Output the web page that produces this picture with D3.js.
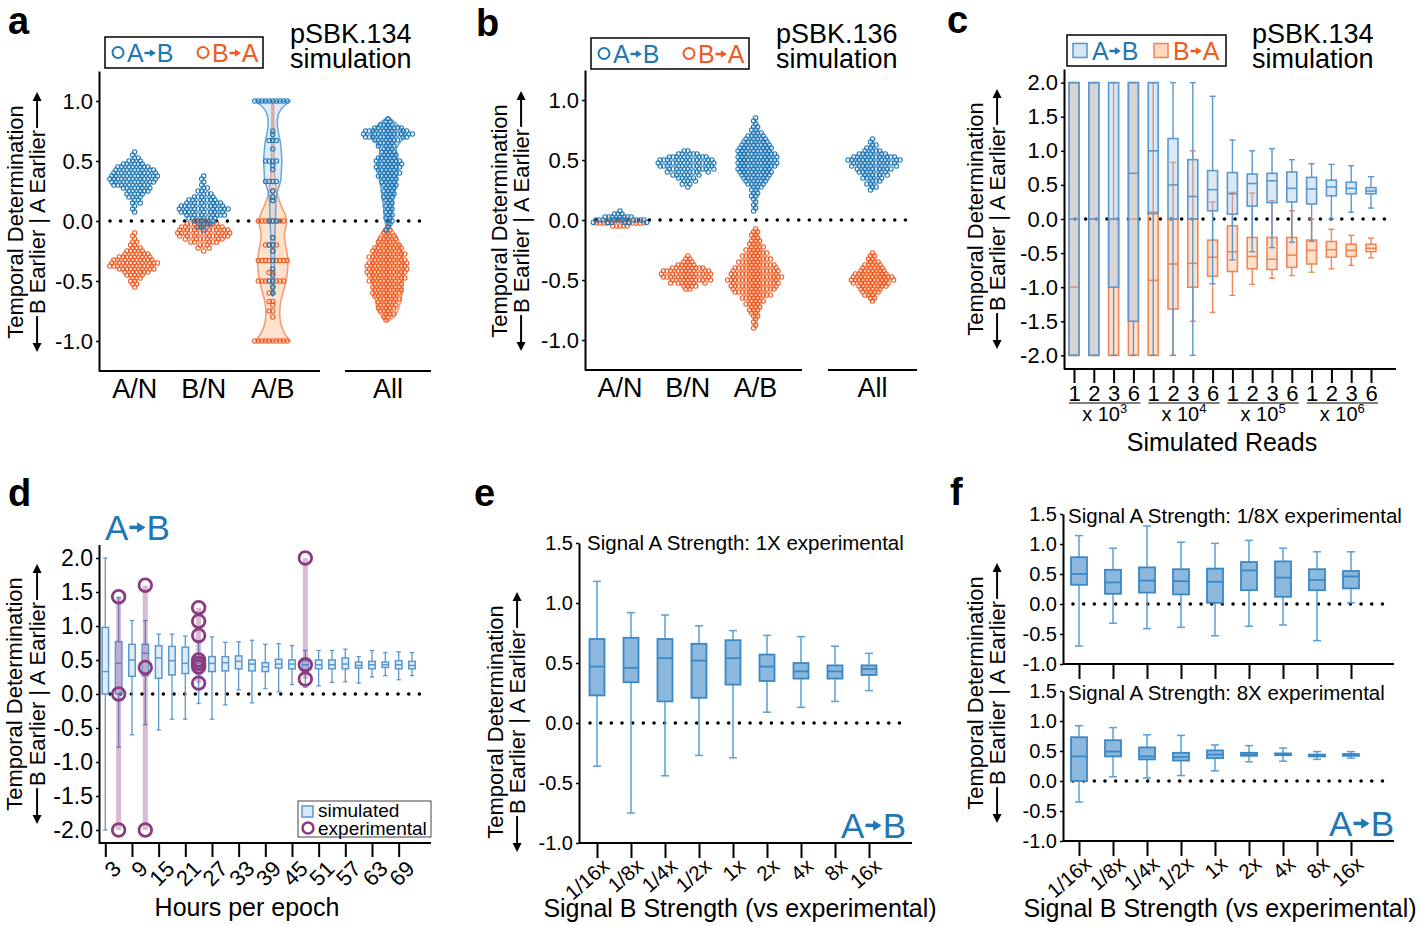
<!DOCTYPE html>
<html><head><meta charset="utf-8">
<script src="https://cdn.jsdelivr.net/npm/d3@7"></script>
<style>body{margin:0;background:#fff}</style>
</head><body>
<script>
// ================= DATA =================
const simCats = ["A/N", "B/N", "A/B"];
const allCat = ["All"];
// swarm data: [value, number of points at that value]
const aAN_AtoB = [[0.575,1],[0.55,1],[0.525,2],[0.5,3],[0.475,5],[0.45,7],[0.425,8],[0.4,9],[0.375,10],[0.35,10],[0.325,9],[0.3,8],[0.275,6],[0.25,5],[0.225,4],[0.2,3],[0.175,2],[0.15,2],[0.125,1],[0.1,1],[0.075,1]];
const aAN_BtoA = [[-0.1,1],[-0.125,1],[-0.15,1],[-0.175,2],[-0.2,2],[-0.225,3],[-0.25,4],[-0.275,6],[-0.3,7],[-0.325,9],[-0.35,10],[-0.375,10],[-0.4,8],[-0.425,6],[-0.45,4],[-0.475,3],[-0.5,2],[-0.525,2],[-0.55,1]];
const aBN_AtoB = [[0.375,1],[0.35,1],[0.325,1],[0.3,1],[0.275,2],[0.25,2],[0.225,3],[0.2,4],[0.175,6],[0.15,7],[0.125,9],[0.1,10],[0.075,9],[0.05,8],[0.025,6],[0.0,4],[-0.025,3],[-0.05,2],[-0.075,1]];
const aBN_BtoA = [[0.0,4],[-0.025,6],[-0.05,8],[-0.075,9],[-0.1,10],[-0.125,9],[-0.15,7],[-0.175,5],[-0.2,3],[-0.225,2],[-0.25,1]];
const aAB_AtoB = [[1.0,10],[0.75,1],[0.72,1],[0.67,3],[0.6,1],[0.5,4],[0.46,1],[0.43,1],[0.33,4],[0.25,1],[0.2,1],[0.17,1],[0.0,3],[-0.14,1],[-0.2,2],[-0.25,1],[-0.33,1],[-0.4,1],[-0.45,1],[-0.5,2],[-0.55,1],[-0.6,1]];
const aAB_BtoA = [[0.25,1],[0.2,1],[0.17,1],[0.0,8],[-0.14,1],[-0.2,4],[-0.25,1],[-0.33,9],[-0.43,2],[-0.5,8],[-0.55,1],[-0.6,2],[-0.67,2],[-0.7,1],[-0.75,2],[-0.8,1],[-1.0,10]];
const aAll_AtoB = [[0.85,1],[0.825,2],[0.8,4],[0.775,7],[0.75,9],[0.725,10],[0.7,9],[0.675,6],[0.65,4],[0.625,4],[0.6,3],[0.575,4],[0.55,4],[0.525,5],[0.5,6],[0.475,6],[0.45,6],[0.425,5],[0.4,5],[0.375,5],[0.35,4],[0.325,4],[0.3,4],[0.275,3],[0.25,3],[0.225,3],[0.2,3],[0.175,2],[0.15,2],[0.125,2],[0.1,2],[0.075,2],[0.05,2],[0.025,2],[0.0,2],[-0.025,1],[-0.05,1],[-0.075,1]];
const aAll_BtoA = [[-0.05,1],[-0.075,2],[-0.1,2],[-0.125,3],[-0.15,4],[-0.175,4],[-0.2,5],[-0.225,6],[-0.25,6],[-0.275,7],[-0.3,7],[-0.325,7],[-0.35,8],[-0.375,8],[-0.4,8],[-0.425,8],[-0.45,7],[-0.475,7],[-0.5,7],[-0.525,6],[-0.55,6],[-0.575,6],[-0.6,6],[-0.625,5],[-0.65,5],[-0.675,4],[-0.7,4],[-0.725,4],[-0.75,3],[-0.775,3],[-0.8,2],[-0.825,1]];
// violin density profiles for panel a: [value, relative density]
const aViolinAB_AtoB = [[1.0,1.0],[0.97,0.75],[0.93,0.45],[0.88,0.3],[0.82,0.25],[0.75,0.3],[0.67,0.45],[0.58,0.5],[0.5,0.55],[0.42,0.5],[0.33,0.5],[0.27,0.3],[0.2,0.2],[0.1,0.17],[0.0,0.17],[-0.1,0.12],[-0.2,0.12],[-0.3,0.1],[-0.4,0.1],[-0.5,0.08],[-0.6,0.05],[-0.63,0]];
const aViolinAB_BtoA = [[1.0,0.05],[0.8,0.05],[0.6,0.06],[0.4,0.1],[0.3,0.15],[0.2,0.3],[0.12,0.5],[0.05,0.75],[0.0,0.85],[-0.06,0.75],[-0.12,0.65],[-0.2,0.75],[-0.27,0.85],[-0.33,0.9],[-0.4,0.88],[-0.5,0.8],[-0.6,0.6],[-0.67,0.45],[-0.75,0.4],[-0.82,0.42],[-0.88,0.5],[-0.94,0.7],[-1.0,1.0]];
const aViolinAll_AtoB = [[0.87,0],[0.83,0.35],[0.78,0.75],[0.73,1.0],[0.68,0.9],[0.63,0.55],[0.58,0.45],[0.52,0.55],[0.45,0.6],[0.38,0.55],[0.3,0.45],[0.2,0.35],[0.1,0.25],[0.0,0.2],[-0.05,0.1],[-0.09,0]];
const aViolinAll_BtoA = [[-0.03,0],[-0.06,0.15],[-0.1,0.4],[-0.15,0.6],[-0.2,0.7],[-0.3,0.85],[-0.4,0.95],[-0.5,0.9],[-0.6,0.85],[-0.7,0.7],[-0.76,0.55],[-0.8,0.35],[-0.84,0]];

const bAN_AtoB = [[0.075,1],[0.05,3],[0.025,7],[0.0,10],[-0.02,6]];
const bAN_BtoA = [[0.0,6],[-0.025,9],[-0.05,5]];
const bBN_AtoB = [[0.575,2],[0.55,5],[0.525,8],[0.5,10],[0.475,10],[0.45,10],[0.425,9],[0.4,7],[0.375,5],[0.35,4],[0.325,3],[0.3,2],[0.275,1]];
const bBN_BtoA = [[-0.3,1],[-0.325,2],[-0.35,3],[-0.375,5],[-0.4,8],[-0.425,10],[-0.45,10],[-0.475,10],[-0.5,9],[-0.525,7],[-0.55,4],[-0.575,2]];
const bAB_AtoB = [[0.85,1],[0.825,1],[0.8,1],[0.775,2],[0.75,2],[0.725,3],[0.7,4],[0.675,5],[0.65,6],[0.625,7],[0.6,8],[0.575,8],[0.55,9],[0.525,9],[0.5,9],[0.475,9],[0.45,9],[0.425,8],[0.4,8],[0.375,7],[0.35,6],[0.325,5],[0.3,4],[0.275,3],[0.25,2],[0.225,2],[0.2,2],[0.175,1],[0.15,1],[0.125,1],[0.1,1],[0.075,1]];
const bAB_BtoA = [[-0.075,1],[-0.1,2],[-0.125,2],[-0.15,2],[-0.175,3],[-0.2,3],[-0.225,4],[-0.25,4],[-0.275,5],[-0.3,5],[-0.325,6],[-0.35,6],[-0.375,7],[-0.4,8],[-0.425,9],[-0.45,9],[-0.475,10],[-0.5,10],[-0.525,9],[-0.55,9],[-0.575,8],[-0.6,7],[-0.625,6],[-0.65,5],[-0.675,4],[-0.7,4],[-0.725,3],[-0.75,3],[-0.775,2],[-0.8,2],[-0.825,1],[-0.85,1],[-0.875,1],[-0.9,1]];
const bAll_AtoB = [[0.675,1],[0.65,1],[0.625,2],[0.6,2],[0.575,4],[0.55,6],[0.525,9],[0.5,10],[0.475,9],[0.45,8],[0.425,7],[0.4,6],[0.375,5],[0.35,4],[0.325,3],[0.3,2],[0.275,2],[0.25,1]];
const bAll_BtoA = [[-0.275,1],[-0.3,2],[-0.325,2],[-0.35,3],[-0.375,4],[-0.4,5],[-0.425,6],[-0.45,8],[-0.475,9],[-0.5,10],[-0.525,8],[-0.55,7],[-0.575,5],[-0.6,4],[-0.625,3],[-0.65,2],[-0.675,1]];

// panel c: box stats [low whisker, q1, median, q3, high whisker]
const cMantissa = ["1","2","3","6"];
const cExponent = ["3","4","5","6"];
const cAtoB = [[-2,-2,0,2,2],[-2,-2,0,2,2],[-2,-1,0,2,2],[-2,-1.5,0.67,2,2],[-2,0.08,1.0,2,2],[-2,0,0.5,1.18,2],[-2,0,0.33,0.87,2],[-0.95,0.12,0.43,0.71,1.8],[-0.6,0.07,0.37,0.68,1.16],[-0.48,0.19,0.52,0.66,1.0],[-0.42,0.24,0.56,0.67,1.03],[-0.34,0.25,0.45,0.69,0.87],[-0.33,0.22,0.44,0.61,0.81],[0,0.34,0.47,0.57,0.8],[0.1,0.37,0.45,0.54,0.78],[0.16,0.37,0.41,0.46,0.62]];
const cBtoA = [[-2,-2,-1,2,2],[-2,-2,0,2,2],[-2,-2,0,0,2],[-2,-2,0,2,2],[-2,-2,-0.9,0.1,2],[-2,-1.32,-0.66,0,0.83],[-1.5,-1.0,-0.65,0,1.0],[-1.37,-0.84,-0.56,-0.31,0.25],[-1.12,-0.77,-0.48,-0.1,0.39],[-0.96,-0.73,-0.55,-0.27,0.38],[-0.87,-0.74,-0.59,-0.27,0.27],[-0.83,-0.71,-0.53,-0.27,0.12],[-0.78,-0.66,-0.46,-0.31,0.0],[-0.73,-0.56,-0.45,-0.33,-0.15],[-0.68,-0.55,-0.46,-0.37,-0.24],[-0.57,-0.48,-0.43,-0.37,-0.28]];

// panel d
const dHours = [3,6,9,12,15,18,21,24,27,30,33,36,39,42,45,48,51,54,57,60,63,66,69,72];
const dTicks = [3,9,15,21,27,33,39,45,51,57,63,69];
const dSim = [[-2,0,0.33,0.98,2],[-0.78,0,0.45,0.77,1.42],[-0.6,0.26,0.5,0.73,1.08],[-0.45,0.27,0.6,0.73,1.08],[-0.53,0.23,0.53,0.71,0.88],[-0.37,0.28,0.49,0.7,0.88],[-0.37,0.3,0.45,0.69,0.85],[-0.14,0.3,0.45,0.53,0.78],[-0.37,0.33,0.45,0.55,0.84],[-0.16,0.34,0.46,0.55,0.76],[0.06,0.37,0.48,0.56,0.77],[-0.13,0.34,0.44,0.5,0.79],[0.08,0.33,0.4,0.46,0.73],[0.03,0.38,0.44,0.51,0.74],[0.14,0.37,0.44,0.5,0.71],[0.1,0.36,0.43,0.49,0.64],[0.12,0.37,0.43,0.5,0.64],[0.17,0.37,0.43,0.5,0.64],[0.18,0.37,0.44,0.53,0.66],[0.16,0.38,0.42,0.47,0.55],[0.25,0.37,0.43,0.48,0.64],[0.27,0.39,0.43,0.47,0.61],[0.21,0.37,0.43,0.49,0.62],[0.27,0.37,0.42,0.48,0.61]];
const dExpHours = [6,12,24,48];
const dExpValues = [[1.43,0,-2],[1.6,0.39,-2],[1.27,1.07,0.86,0.5,0.45,0.4,0.16],[2.0,0.43,0.22]];

// panels e, f
const strengthCats = ["1/16x","1/8x","1/4x","1/2x","1x","2x","4x","8x","16x"];
const eA1x = [[-0.36,0.23,0.47,0.70,1.18],[-0.75,0.34,0.46,0.71,0.92],[-0.44,0.18,0.54,0.70,0.90],[-0.27,0.21,0.52,0.66,0.81],[-0.29,0.32,0.54,0.69,0.77],[0.09,0.35,0.47,0.57,0.73],[0.13,0.37,0.43,0.50,0.72],[0.18,0.37,0.43,0.48,0.64],[0.27,0.40,0.45,0.48,0.58]];
const fA1_8x = [[-0.70,0.32,0.50,0.78,1.14],[-0.32,0.17,0.36,0.57,0.93],[-0.41,0.19,0.39,0.61,1.30],[-0.39,0.16,0.38,0.58,1.03],[-0.53,0.02,0.37,0.59,1.01],[-0.37,0.23,0.56,0.70,1.06],[-0.35,0.12,0.44,0.71,0.93],[-0.61,0.23,0.40,0.58,0.87],[0.02,0.26,0.46,0.55,0.87]];
const fA8x = [[-0.35,0.00,0.41,0.73,0.92],[0.07,0.41,0.49,0.68,0.89],[0.05,0.36,0.41,0.56,0.77],[0.09,0.34,0.40,0.47,0.76],[0.17,0.38,0.44,0.51,0.60],[0.32,0.42,0.44,0.47,0.59],[0.33,0.43,0.44,0.46,0.55],[0.36,0.41,0.43,0.44,0.49],[0.38,0.42,0.43,0.45,0.49]];

// ================= DRAW =================
const FONT = "'Liberation Sans', Arial, Helvetica, sans-serif";
const BLUE = "#1f77b4", ORANGE = "#f05a23", PURPLE = "#8b3a80";
const svg = d3.select("body").append("svg").attr("width",1422).attr("height",926).attr("font-family",FONT);
svg.append("rect").attr("width",1422).attr("height",926).attr("fill","#fff");
const fmt1 = v => d3.format(".1f")(v).replace("\u2212","-");

function expand(counts){ return counts.flatMap(([v,n]) => d3.range(n).map(() => v)); }
function dodge(ys, rc){
  const order = ys.map((y,i)=>i).sort((a,b)=>ys[a]-ys[b]);
  const xs = new Array(ys.length).fill(0), placed = [], d2 = 4*rc*rc;
  for (const i of order){
    const y = ys[i], iv = [];
    for (const p of placed){ const dy = y-p[1]; if (dy*dy < d2){ const dx = Math.sqrt(d2-dy*dy); iv.push([p[0]-dx,p[0]+dx]); } }
    const cands = [0]; iv.forEach(v=>cands.push(v[0],v[1]));
    cands.sort((a,b)=>Math.abs(a)-Math.abs(b) || a-b);
    let x = 0;
    for (const c of cands){ if (iv.every(v => c <= v[0]+1e-6 || c >= v[1]-1e-6)){ x = c; break; } }
    xs[i] = x; placed.push([x,y]);
  }
  return xs;
}
function swarm(g, cx, counts, y, color){
  const vals = expand(counts), ys = vals.map(y), xs = dodge(ys, 1.8);
  g.append("g").selectAll("circle").data(vals).join("circle")
    .attr("cx",(d,i)=>cx+xs[i]).attr("cy",(d,i)=>ys[i]).attr("r",2.2)
    .attr("fill","none").attr("stroke",color).attr("stroke-width",1.1);
}
function violin(g, cx, prof, y, wmax, fill, stroke){
  const w = d3.scaleLinear().domain([0,1]).range([0,wmax]);
  const area = d3.area().x0(d=>cx-w(d[1])).x1(d=>cx+w(d[1])).y(d=>y(d[0])).curve(d3.curveBasis);
  g.append("path").datum(prof).attr("d",area).attr("fill",fill).attr("stroke",stroke).attr("stroke-width",stroke==="none"?0:1.5);
}
function countViolin(g, cx, counts, y, fill){
  const s = counts.slice().sort((a,b)=>b[0]-a[0]);
  const prof = [[s[0][0]+0.01,0], ...s.map(d=>[d[0], d[1]]), [s[s.length-1][0]-0.01,0]];
  const mx = d3.max(counts, d=>d[1]);
  violin(g, cx, prof.map(d=>[d[0], d[1]/mx]), y, mx*1.8+1, fill, "none");
}
function yAxis(g, y, x, ticks, fs){
  const a = g.append("g").attr("transform",`translate(${x},0)`)
    .call(d3.axisLeft(y).tickValues(ticks).tickFormat(fmt1).tickSize(3).tickSizeOuter(0).tickPadding(3));
  a.select(".domain").attr("stroke","#000").attr("stroke-width",2);
  a.selectAll(".tick line").attr("stroke","#000").attr("stroke-width",1.5);
  a.selectAll(".tick text").attr("font-size",fs).attr("font-family",FONT).attr("fill","#000");
}
function hline(g, x1, x2, yy, w){ g.append("line").attr("x1",x1).attr("x2",x2).attr("y1",yy).attr("y2",yy).attr("stroke","#000").attr("stroke-width",w||2); }
function zeroDots(g, x1, x2, yy){
  g.append("line").attr("x1",x1).attr("x2",x2).attr("y1",yy).attr("y2",yy)
   .attr("stroke","#000").attr("stroke-width",3.6).attr("stroke-linecap","round").attr("stroke-dasharray","0 10.67");
}
function yLabel(g, xb1, xb2, cy, fs){
  g.append("text").attr("transform",`translate(${xb1},${cy}) rotate(-90)`).attr("text-anchor","middle").attr("font-size",fs).text("Temporal Determination");
  const gg = g.append("g").attr("transform",`translate(${xb2},${cy}) rotate(-90)`);
  const t = gg.append("text").attr("text-anchor","middle").attr("font-size",fs).text("B Earlier | A Earlier");
  const L = t.node().getComputedTextLength();
  const my = -fs*0.36;
  [[L/2+2, L/2+38],[-L/2-2, -L/2-38]].forEach(([a,b])=>{
    const dir = Math.sign(b-a);
    gg.append("line").attr("x1",a).attr("x2",b-dir*6).attr("y1",my).attr("y2",my).attr("stroke","#000").attr("stroke-width",2);
    gg.append("path").attr("d",`M${b},${my} L${b-dir*9},${my-4.5} L${b-dir*9},${my+4.5} Z`).attr("fill","#000");
  });
}
// "A→B" style label with a short, bold arrow drawn as a path
function arrowText(g, x, yb, fs, a, b, color, anchor){
  const grp = g.append("g");
  const ta = grp.append("text").attr("x",0).attr("y",yb).attr("font-size",fs).attr("fill",color).text(a);
  const wa = ta.node().getComputedTextLength();
  const gap = fs*0.03, aw = fs*0.46, my = yb - fs*0.36;
  const x0 = wa + gap, x1 = x0 + aw;
  grp.append("line").attr("x1",x0).attr("x2",x1-fs*0.2).attr("y1",my).attr("y2",my).attr("stroke",color).attr("stroke-width",fs*0.1);
  grp.append("path").attr("d",`M${x1},${my} L${x1-fs*0.24},${my-fs*0.15} L${x1-fs*0.24},${my+fs*0.15} Z`).attr("fill",color);
  const tb = grp.append("text").attr("x",x1+gap).attr("y",yb).attr("font-size",fs).attr("fill",color).text(b);
  const total = x1 + gap + tb.node().getComputedTextLength();
  grp.attr("transform",`translate(${anchor==="end" ? x-total : x},0)`);
}
function panelLetter(x, yb, s){ svg.append("text").attr("x",x).attr("y",yb).attr("font-size",38).attr("font-weight","bold").text(s); }
function boxes(g, xs, data, y, w, st){
  const gg = g.append("g").selectAll("g").data(data).join("g");
  gg.append("line").attr("x1",(d,i)=>xs[i]).attr("x2",(d,i)=>xs[i]).attr("y1",d=>y(d[4])).attr("y2",d=>y(d[3])).attr("stroke",st.whisker).attr("stroke-width",st.ws);
  gg.append("line").attr("x1",(d,i)=>xs[i]).attr("x2",(d,i)=>xs[i]).attr("y1",d=>y(d[1])).attr("y2",d=>y(d[0])).attr("stroke",st.whisker).attr("stroke-width",st.ws);
  [0,4].forEach(k=>gg.append("line").attr("x1",(d,i)=>xs[i]-st.cap).attr("x2",(d,i)=>xs[i]+st.cap).attr("y1",d=>y(d[k])).attr("y2",d=>y(d[k])).attr("stroke",st.whisker).attr("stroke-width",st.ws));
  gg.append("rect").attr("x",(d,i)=>xs[i]-w/2).attr("width",w).attr("y",d=>y(d[3])).attr("height",d=>Math.max(0.5,y(d[1])-y(d[3])))
    .attr("fill",st.fill).attr("stroke",st.stroke).attr("stroke-width",st.bs);
  gg.append("line").attr("x1",(d,i)=>xs[i]-w/2).attr("x2",(d,i)=>xs[i]+w/2).attr("y1",d=>y(d[2])).attr("y2",d=>y(d[2])).attr("stroke",st.stroke).attr("stroke-width",st.bs);
}
function legendBox(g, x, y, w, h, sw, col){ g.append("rect").attr("x",x).attr("y",y).attr("width",w).attr("height",h).attr("fill","#fff").attr("stroke",col||"#000").attr("stroke-width",sw||1.5); }
function title(g, x, l1, l2){
  g.append("text").attr("x",x).attr("y",43).attr("font-size",27).text(l1);
  g.append("text").attr("x",x).attr("y",68).attr("font-size",27).text(l2);
}

// ---------- panels a & b (swarm / violin) ----------
function swarmPanel(cfg){
  const g = svg.append("g");
  const y = d3.scaleLinear().domain([-1.25,1.25]).range([cfg.bottom, cfg.bottom-300]);
  const xs = d3.scalePoint().domain(simCats).range([cfg.ax, cfg.seg1]).padding(0.6).align(0.43);
  const xall = d3.scalePoint().domain(allCat).range([cfg.seg2a, cfg.seg2b]).padding(0.5);
  zeroDots(g, cfg.ax+11, cfg.seg2b-10, y(0));
  cfg.draw(g, y, xs, xall);
  yAxis(g, y, cfg.ax, [-1,-0.5,0,0.5,1], 22);
  hline(g, cfg.ax, cfg.seg1, cfg.bottom);
  hline(g, cfg.seg2a, cfg.seg2b, cfg.bottom);
  simCats.concat(allCat).forEach(c=>{
    const x = c==="All" ? xall(c) : xs(c);
    g.append("text").attr("x",x).attr("y",cfg.bottom+27).attr("text-anchor","middle").attr("font-size",27).text(c);
  });
  yLabel(g, cfg.lb1, cfg.lb2, cfg.bottom-149, 22);
  legendBox(g, cfg.legX, cfg.legY, 158, 31);
  [[0,"A","B",BLUE],[85,"B","A",ORANGE]].forEach(([dx,a,b,col])=>{
    g.append("circle").attr("cx",cfg.legX+13+dx).attr("cy",cfg.legY+15.5).attr("r",5.5).attr("fill","none").attr("stroke",col).attr("stroke-width",2);
    arrowText(g, cfg.legX+22+dx, cfg.legY+25, 25, a, b, col);
  });
  title(g, cfg.titleX, cfg.t1, "simulation");
}
swarmPanel({ax:99, seg1:320, seg2a:345, seg2b:431, bottom:371, lb1:23, lb2:45, legX:105, legY:37, titleX:290, t1:"pSBK.134",
  draw:(g,y,xs,xall)=>{
    swarm(g, xs("A/N"), aAN_BtoA, y, ORANGE); swarm(g, xs("A/N"), aAN_AtoB, y, BLUE);
    swarm(g, xs("B/N"), aBN_BtoA, y, ORANGE); swarm(g, xs("B/N"), aBN_AtoB, y, BLUE);
    violin(g, xs("A/B"), aViolinAB_BtoA, y, 17, "rgba(252,190,140,0.45)", "#f39a70");
    violin(g, xs("A/B"), aViolinAB_AtoB, y, 17, "rgba(160,196,232,0.35)", "#6aa6d8");
    swarm(g, xs("A/B"), aAB_BtoA, y, ORANGE); swarm(g, xs("A/B"), aAB_AtoB, y, BLUE);
    violin(g, xall("All"), aViolinAll_BtoA, y, 17, "rgba(252,190,140,0.45)", "#f39a70");
    violin(g, xall("All"), aViolinAll_AtoB, y, 17, "rgba(160,196,232,0.35)", "#6aa6d8");
    swarm(g, xall("All"), aAll_BtoA, y, ORANGE); swarm(g, xall("All"), aAll_AtoB, y, BLUE);
  }});
panelLetter(8, 34, "a");
swarmPanel({ax:585, seg1:802, seg2a:828, seg2b:917, bottom:370, lb1:507, lb2:529, legX:591, legY:38, titleX:776, t1:"pSBK.136",
  draw:(g,y,xs,xall)=>{
    swarm(g, xs("A/N"), bAN_BtoA, y, ORANGE); swarm(g, xs("A/N"), bAN_AtoB, y, BLUE);
    swarm(g, xs("B/N"), bBN_BtoA, y, ORANGE); swarm(g, xs("B/N"), bBN_AtoB, y, BLUE);
    countViolin(g, xs("A/B"), bAB_BtoA, y, "rgba(252,190,140,0.45)");
    countViolin(g, xs("A/B"), bAB_AtoB, y, "rgba(160,196,232,0.35)");
    swarm(g, xs("A/B"), bAB_BtoA, y, ORANGE); swarm(g, xs("A/B"), bAB_AtoB, y, BLUE);
    countViolin(g, xall("All"), bAll_BtoA, y, "rgba(252,190,140,0.45)");
    countViolin(g, xall("All"), bAll_AtoB, y, "rgba(160,196,232,0.35)");
    swarm(g, xall("All"), bAll_BtoA, y, ORANGE); swarm(g, xall("All"), bAll_AtoB, y, BLUE);
  }});
panelLetter(476, 36, "b");

// ---------- panel c ----------
{
  const g = svg.append("g");
  const y = d3.scaleLinear().domain([-2.2,2.2]).range([369,69]);
  const idx = d3.range(cAtoB.length);
  const x = d3.scalePoint().domain(idx).range([1074,1371]);
  zeroDots(g, 1075, 1386, y(0));
  const xs = idx.map(i=>x(i));
  boxes(g, xs, cBtoA, y, 10, {fill:"rgba(252,180,128,0.4)", stroke:"#f0875a", whisker:"#f0875a", ws:1.4, bs:1.6, cap:3});
  boxes(g, xs, cAtoB, y, 10, {fill:"rgba(150,190,230,0.35)", stroke:"#5b98cf", whisker:"#5b98cf", ws:1.4, bs:1.6, cap:3});
  yAxis(g, y, 1064, [-2,-1.5,-1,-0.5,0,0.5,1,1.5,2], 22);
  const ax = g.append("g").attr("transform","translate(0,369)")
    .call(d3.axisBottom(x).tickSize(14).tickSizeOuter(0).tickPadding(2).tickFormat(i=>cMantissa[i%4]));
  ax.select(".domain").remove();
  ax.selectAll(".tick line").attr("stroke","#000").attr("stroke-width",2);
  ax.selectAll(".tick text").attr("font-size",22).attr("font-family",FONT).attr("fill","#000");
  hline(g, 1064, 1396, 369);
  cExponent.forEach((e,k)=>{
    const x1 = x(k*4), x2 = x(k*4+3);
    hline(g, x1-5, x2+7, 403, 1);
    const t = g.append("text").attr("x",(x1+x2)/2+1).attr("y",421).attr("text-anchor","middle").attr("font-size",20).text("x 10");
    t.append("tspan").attr("font-size",13).attr("dy",-8).text(e);
  });
  g.append("text").attr("x",1222).attr("y",451).attr("text-anchor","middle").attr("font-size",25).text("Simulated Reads");
  yLabel(g, 983, 1005, 219, 22);
  legendBox(g, 1067, 35, 159, 31);
  [[0,"A","B",BLUE,"rgba(150,190,230,0.35)","#5b98cf"],[81,"B","A",ORANGE,"rgba(252,180,128,0.5)","#f0875a"]].forEach(([dx,a,b,col,f,s])=>{
    g.append("rect").attr("x",1073+dx).attr("y",43.5).attr("width",14).attr("height",14).attr("fill",f).attr("stroke",s).attr("stroke-width",1.6);
    arrowText(g, 1092+dx, 60, 25, a, b, col);
  });
  title(g, 1252, "pSBK.134", "simulation");
}
panelLetter(947, 33, "c");

// ---------- panel d ----------
{
  const g = svg.append("g");
  const y = d3.scaleLinear().domain([-2.2,2.2]).range([843.6,544.4]);
  const x = d3.scaleLinear().domain([3,72]).range([105.3,412]);
  zeroDots(g, 110, 422, y(0));
  boxes(g, dHours.map(x), dSim, y, 6.5, {fill:"rgba(150,190,230,0.3)", stroke:"#5b98cf", whisker:"#5b98cf", ws:1.3, bs:1.5, cap:2.2});
  dExpHours.forEach((h,k)=>{
    const vals = dExpValues[k];
    g.append("line").attr("x1",x(h)).attr("x2",x(h)).attr("y1",y(d3.max(vals))).attr("y2",y(d3.min(vals)))
      .attr("stroke",PURPLE).attr("stroke-opacity",0.35).attr("stroke-width",5);
    g.append("g").selectAll("circle").data(vals).join("circle").attr("cx",x(h)).attr("cy",d=>y(d)).attr("r",6.3)
      .attr("fill","none").attr("stroke",PURPLE).attr("stroke-width",2.8);
  });
  yAxis(g, y, 99, [-2,-1.5,-1,-0.5,0,0.5,1,1.5,2], 23);
  hline(g, 99, 431, 843);
  const ax = g.append("g").attr("transform","translate(0,843)")
    .call(d3.axisBottom(x).tickValues(dTicks).tickSize(14).tickSizeOuter(0).tickFormat(""));
  ax.select(".domain").remove();
  ax.selectAll(".tick line").attr("stroke","#000").attr("stroke-width",2);
  dTicks.forEach(t=>{
    g.append("text").attr("transform",`translate(${x(t)+6},${859}) rotate(-45)`).attr("text-anchor","end").attr("dy","0.72em").attr("font-size",22).text(t);
  });
  g.append("text").attr("x",247).attr("y",916).attr("text-anchor","middle").attr("font-size",25).text("Hours per epoch");
  yLabel(g, 22, 45, 694, 22);
  arrowText(g, 105, 540, 35, "A", "B", BLUE);
  legendBox(g, 298, 801, 133, 36, 1, "#444");
  g.append("rect").attr("x",302).attr("y",806).attr("width",11).attr("height",11).attr("fill","rgba(150,190,230,0.35)").attr("stroke","#5b98cf").attr("stroke-width",1.5);
  g.append("text").attr("x",318).attr("y",817).attr("font-size",19).text("simulated");
  g.append("circle").attr("cx",308).attr("cy",828).attr("r",5.5).attr("fill","none").attr("stroke",PURPLE).attr("stroke-width",2.5);
  g.append("text").attr("x",318).attr("y",835).attr("font-size",19).text("experimental");
}
panelLetter(8, 506, "d");

// ---------- panels e, f ----------
const filledStyle = {fill:"#8db8dd", stroke:"#3a87c6", whisker:"#5a9fd6", ws:1.5, bs:1.8, cap:4};
function strengthAxis(g, x, yb, withLabels){
  const ax = g.append("g").attr("transform",`translate(0,${yb})`)
    .call(d3.axisBottom(x).tickSize(15).tickSizeOuter(0).tickFormat(""));
  ax.select(".domain").remove();
  ax.selectAll(".tick line").attr("stroke","#000").attr("stroke-width",2);
  if (withLabels) strengthCats.forEach(c=>{
    g.append("text").attr("transform",`translate(${x(c)+4},${yb+14}) rotate(-41)`).attr("text-anchor","end").attr("dy","0.72em").attr("font-size",20.5).text(c);
  });
}
{
  const g = svg.append("g");
  const y = d3.scaleLinear().domain([-1,1.5]).range([843,543]);
  const x = d3.scalePoint().domain(strengthCats).range([597,869]);
  zeroDots(g, 590, 902, y(0));
  boxes(g, strengthCats.map(x), eA1x, y, 15, filledStyle);
  yAxis(g, y, 579, [-1,-0.5,0,0.5,1,1.5], 20);
  hline(g, 579, 912, 843);
  strengthAxis(g, x, 843, true);
  g.append("text").attr("x",587).attr("y",550).attr("font-size",20.5).text("Signal A Strength: 1X experimental");
  g.append("text").attr("x",740).attr("y",917).attr("text-anchor","middle").attr("font-size",25).text("Signal B Strength (vs experimental)");
  yLabel(g, 503, 525, 722, 22);
  arrowText(g, 906, 838, 35, "A", "B", BLUE, "end");
}
panelLetter(474, 506, "e");
{
  const g = svg.append("g");
  const x = d3.scalePoint().domain(strengthCats).range([1079,1351]);
  [[fA1_8x, 664, "Signal A Strength: 1/8X experimental", false],[fA8x, 841, "Signal A Strength: 8X experimental", true]].forEach(([data, yb, ttl, lab])=>{
    const y = d3.scaleLinear().domain([-1,1.5]).range([yb, yb-150]);
    zeroDots(g, 1073, 1384, y(0));
    boxes(g, strengthCats.map(x), data, y, 16, filledStyle);
    yAxis(g, y, 1063, [-1,-0.5,0,0.5,1,1.5], 20);
    hline(g, 1063, 1394, yb);
    strengthAxis(g, x, yb, lab);
    g.append("text").attr("x",1068).attr("y",yb-141).attr("font-size",20.5).text(ttl);
  });
  g.append("text").attr("x",1220).attr("y",917).attr("text-anchor","middle").attr("font-size",25).text("Signal B Strength (vs experimental)");
  yLabel(g, 983, 1005, 693, 22);
  arrowText(g, 1394, 836, 35, "A", "B", BLUE, "end");
}
panelLetter(950, 505, "f");
</script>
</body></html>
